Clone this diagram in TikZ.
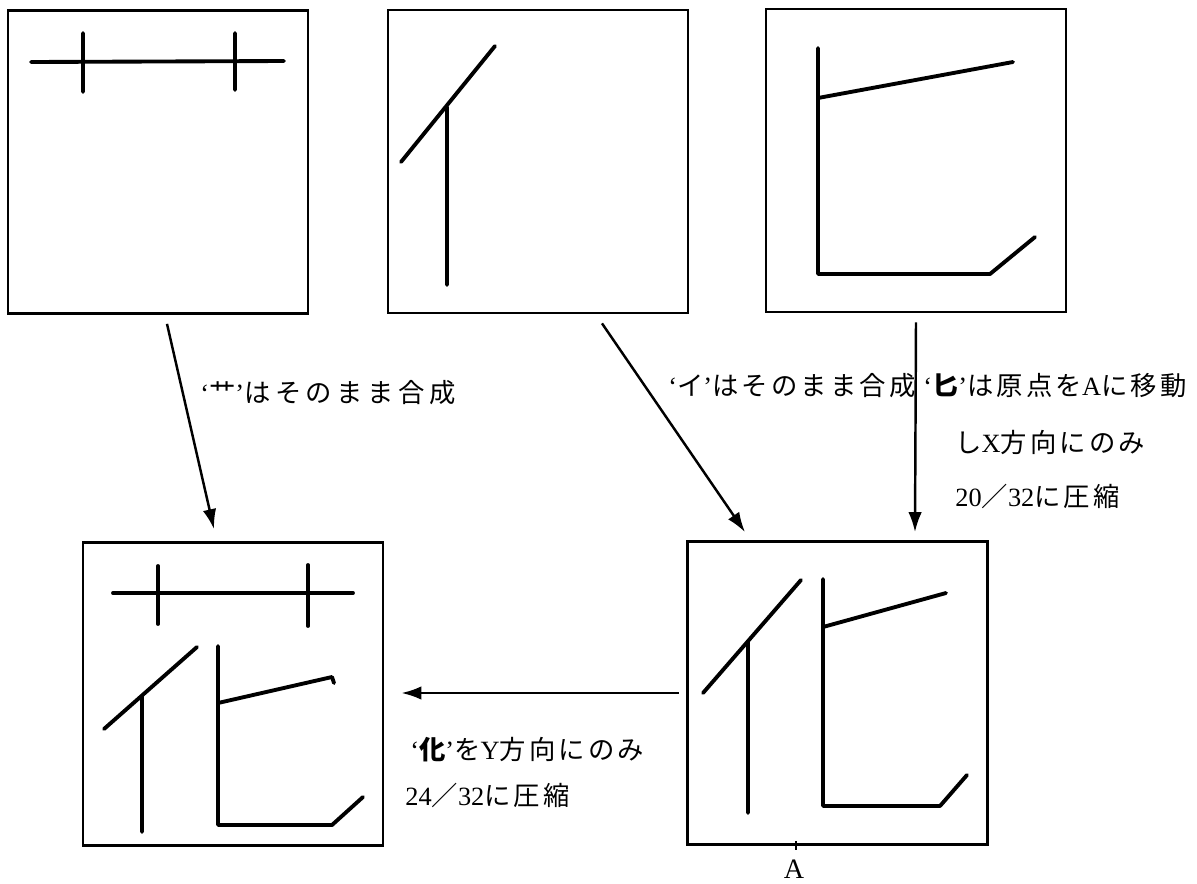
\documentclass[tikz,border=0pt]{standalone}
\usepackage{fontspec}
\setmainfont{Noto Sans CJK JP}
\newfontfamily\lat{Liberation Serif}
\newfontfamily\jp[LetterSpace=12]{Noto Sans CJK JP}
\newfontfamily\jpwide[LetterSpace=17]{Noto Sans CJK JP}
\usetikzlibrary{arrows.meta}

\begin{document}
\begin{tikzpicture}[x=0.02cm, y=-0.02cm,
  panel/.style={draw, line width=1.6pt, minimum width=6cm, minimum height=6.06cm, inner sep=0pt},
  stroke/.style={line width=2.2pt, line cap=round, line join=round},
  flow/.style={line width=1.4pt, -{Latex[length=0.4cm, width=0.27cm]}},
  note/.style={anchor=west, inner sep=0pt, font=\jp\fontsize{15}{18}\selectfont},
  notewide/.style={note, font=\jpwide\fontsize{15}{18}\selectfont}]

\useasboundingbox (0,0) rectangle (1197,883);

%panels
\node[panel] (kusa) at (158,162) {};
\node[panel] (ninben) at (538,161.5) {};
\node[panel] (saji) at (916,160.5) {};
\node[panel] (ka) at (233,694) {};
\node[panel] (kaX) at (837.5,693) {};

%strokes
\draw[stroke] (31,62) -- (284,61) (83,33) -- (83,92) (235,33) -- (235,90);
\draw[stroke] (401,162) -- (495,46) (447,107) -- (447,285);
\draw[stroke] (818,48) -- (818,274) -- (990,274) -- (1035,237) (818,98) -- (1013,62);
\draw[stroke] (703,693) -- (801,580) (748,642) -- (748,813);
\draw[stroke] (823,579) -- (823,806) -- (940,806) -- (967,775) (823,627) -- (946,593);
\draw[stroke] (113,593) -- (353,593) (158,566) -- (158,624) (308,565) -- (308,626);
\draw[stroke] (104,729) -- (197,647) (142,697) -- (142,832);
\draw[stroke] (218,646) -- (218,825) -- (332,825) -- (363,797) (218,703) -- (332,677) -- (334,683);

%origin A
\coordinate (A) at (796,845);
\draw[line width=1.2pt] ([yshift=0.08cm]A) -- ([yshift=-0.1cm]A);
\node[font=\lat\fontsize{16}{18}\selectfont, inner sep=0pt, anchor=base] (Alabel) at (794,878) {A};

%edges
\draw[flow] ([shift={(0.18cm,-0.18cm)}]kusa.south) -- ([shift={(-0.38cm,0.24cm)}]ka.north);
\draw[flow] ([shift={(1.28cm,-0.18cm)}]ninben.south) -- ([shift={(-1.85cm,0.16cm)}]kaX.north);
\draw[flow] ([shift={(0cm,-0.18cm)}]saji.south) -- ([shift={(1.55cm,0.16cm)}]kaX.north);
\draw[flow] ([xshift=-0.15cm]kaX.west) -- ([shift={(0.34cm,0.02cm)}]ka.east);

%labels
\node[notewide] (l1) at (200,393) {{\lat‘}艹{\lat’}はそのまま合成};
\node[note] (l2) at (668,386) {{\lat‘}イ{\lat’}はそのまま合成};
\node[note] (l3a) at (923,386) {{\lat‘}{\bfseries 匕}{\lat’}は原点を{\lat A}に移動};
\node[note] (l3b) at (955,442) {し{\lat X}方向にのみ};
\node[note] (l3c) at (955,496) {{\lat 20}／{\lat 32}に圧縮};
\node[note] (l4a) at (410,750) {{\lat‘}{\bfseries 化}{\lat’}を{\lat Y}方向にのみ};
\node[note] (l4b) at (405,795) {{\lat 24}／{\lat 32}に圧縮};

\end{tikzpicture}
\end{document}
